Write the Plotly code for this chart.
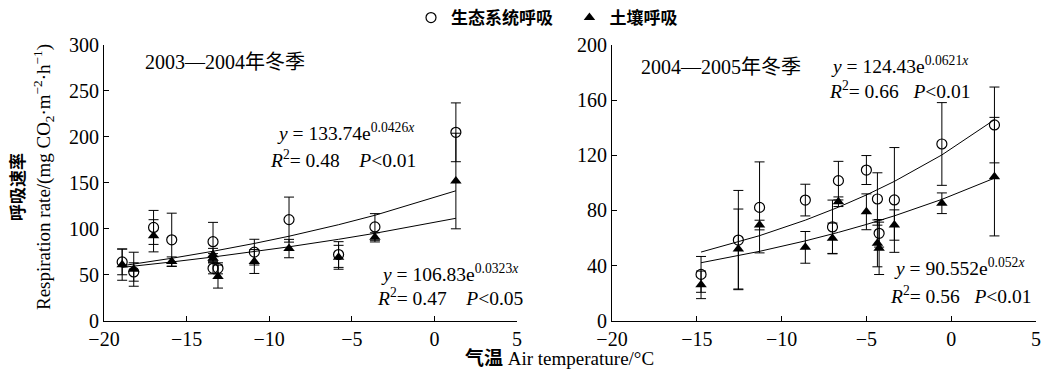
import plotly.graph_objects as go
import numpy as np

# ---------------- data ----------------
# Winter 2003-2004
t_0304 = [-18.9, -18.2, -17.0, -15.9, -13.4, -13.4, -13.1, -10.9, -8.8, -5.8, -3.6, 1.3]
eco_0304 = [64, 53, 101.5, 88, 86, 57, 57, 74.6, 110, 72, 102, 205]
eco_err_0304 = [14, 10, 18.5, 29, 21, 6, 6, 14, 24.5, 14, 14.5, 32]
soil_0304 = [61, 56, 92.4, 64.4, 71.7, 68, 48, 64.4, 78.5, 69, 90.7, 152]
soil_err_0304 = [17, 18.5, 17.5, 5, 7, 5, 12.5, 13, 10, 13, 5, 52]

# Winter 2004-2005
t_0405 = [-14.75, -12.55, -11.3, -8.6, -7.0, -6.65, -5.0, -4.35, -4.25, -3.35, -0.55, 2.55]
eco_0405 = [33.6, 58.5, 82.2, 87.5, 68, 101.6, 109.3, 88.3, 63.4, 87.6, 128.2, 142]
eco_err_0405 = [13, 36, 33, 11.5, 19.5, 14, 10.5, 19, 10, 38, 30, 27.5]
soil_0405 = [26, 52, 69.4, 53.2, 59.8, 86.3, 79, 56.1, 52.5, 69.4, 85.2, 104.5]
soil_err_0405 = [10, 29, 3.5, 11.5, 11, 3.5, 13, 17, 19, 11, 7.5, 43]

# fitted exponential models printed in the chart: y = a * exp(b x)
fit_eco_0304 = (133.74, 0.0426)
fit_soil_0304 = (106.83, 0.0323)
fit_eco_0405 = (124.43, 0.0621)
fit_soil_0405 = (90.552, 0.052)

legend_names = ["生态系统呼吸", "土壤呼吸"]
x_ticks = [-20, -15, -10, -5, 0, 5]
y_ticks_0304 = [0, 50, 100, 150, 200, 250, 300]
y_ticks_0405 = [0, 40, 80, 120, 160, 200]

# ---------------- figure ----------------
W, H = 1045, 375
SERIF = "Liberation Serif, Times New Roman, Noto Sans CJK SC, serif"
CJK = "Noto Sans CJK SC, sans-serif"
NB = "\u00a0"

fig = go.Figure()


def add_panel(xs, eco, eco_err, soil, soil_err, fe, fs, xa, ya, show_legend):
    err_style = dict(type="data", visible=True, color="black", thickness=1, width=5)
    fig.add_trace(go.Scatter(
        x=xs, y=eco, mode="markers", name="<b>" + legend_names[0] + "</b>" + NB * 3,
        marker=dict(symbol="circle-open", size=10, color="black", line=dict(width=1.2, color="black")),
        error_y=dict(array=eco_err, **err_style),
        xaxis=xa, yaxis=ya, showlegend=show_legend, legendgroup="eco"))
    fig.add_trace(go.Scatter(
        x=xs, y=soil, mode="markers", name="<b>" + legend_names[1] + "</b>",
        marker=dict(symbol="triangle-up", size=10, color="black"),
        error_y=dict(array=soil_err, **err_style),
        xaxis=xa, yaxis=ya, showlegend=show_legend, legendgroup="soil"))
    xf = np.array(sorted(set(xs)))
    for a, b in (fe, fs):
        fig.add_trace(go.Scatter(
            x=xf, y=a * np.exp(b * xf), mode="lines",
            line=dict(color="black", width=1), xaxis=xa, yaxis=ya,
            showlegend=False, hoverinfo="skip"))


add_panel(t_0304, eco_0304, eco_err_0304, soil_0304, soil_err_0304,
          fit_eco_0304, fit_soil_0304, "x", "y", True)
add_panel(t_0405, eco_0405, eco_err_0405, soil_0405, soil_err_0405,
          fit_eco_0405, fit_soil_0405, "x2", "y2", False)

ydom = [1 - 320.7 / H, 1 - 45 / H]
axis_common = dict(showline=True, linecolor="black", linewidth=1, showgrid=False,
                   zeroline=False, ticks="inside", ticklen=5, tickcolor="black",
                   automargin=False, ticklabeloverflow="allow",
                   tickfont=dict(family=SERIF, size=20, color="black"))

fig.update_layout(
    width=W, height=H,
    margin=dict(l=0, r=0, t=0, b=0, pad=0, autoexpand=False),
    paper_bgcolor="white", plot_bgcolor="white",
    font=dict(family=SERIF, size=19, color="black"),
    xaxis=dict(domain=[104 / W, 517 / W], range=[-20, 5], tickvals=x_ticks,
               anchor="y", **axis_common),
    yaxis=dict(domain=ydom, range=[0, 300], tickvals=y_ticks_0304,
               anchor="x", **axis_common),
    xaxis2=dict(domain=[612 / W, 1036 / W], range=[-20, 5], tickvals=x_ticks,
                anchor="y2", **axis_common),
    yaxis2=dict(domain=ydom, range=[0, 200], tickvals=y_ticks_0405,
                anchor="x2", **axis_common),
    legend=dict(orientation="h", x=547 / W, xanchor="center", y=1.0, yanchor="top",
                font=dict(family=CJK, size=17, color="black"), bgcolor="rgba(0,0,0,0)",
                itemwidth=30, tracegroupgap=0),
    showlegend=True,
)


def px_ann(text, x, y, xanchor="left", size=19.5, family=SERIF, angle=0):
    fig.add_annotation(text=text, x=x / W, y=1 - y / H, xref="paper", yref="paper",
                       xanchor=xanchor, yanchor="middle", showarrow=False,
                       textangle=angle, font=dict(family=family, size=size, color="black"))


px_ann("2003—2004年冬季", 143, 62, size=20)
px_ann("2004—2005年冬季", 639, 67, size=20)

px_ann("<i>y</i> = 133.74e<sup>0.0426<i>x</i></sup>", 275, 132)
px_ann("<i>R</i><sup>2</sup>= 0.48" + NB * 4 + "<i>P</i>&lt;0.01", 268, 159)
px_ann("<i>y</i> = 106.83e<sup>0.0323<i>x</i></sup>", 379, 273)
px_ann("<i>R</i><sup>2</sup>= 0.47" + NB * 4 + "<i>P</i>&lt;0.05", 375, 297)

px_ann("<i>y</i> = 124.43e<sup>0.0621<i>x</i></sup>", 829, 65)
px_ann("<i>R</i><sup>2</sup>= 0.66" + NB * 3 + "<i>P</i>&lt;0.01", 827, 90)
px_ann("<i>y</i> = 90.552e<sup>0.052<i>x</i></sup>", 892, 267)
px_ann("<i>R</i><sup>2</sup>= 0.56" + NB * 3 + "<i>P</i>&lt;0.01", 888, 295)

# axis titles
px_ann("<b>呼吸速率</b>", 17, 187, xanchor="center", size=17, family=CJK, angle=-90)
px_ann("Respiration rate/(mg CO<sub>2</sub>·m<sup>−2</sup>·h<sup>−1</sup>)", 43, 177,
       xanchor="center", size=19, angle=-90)
px_ann("<b>气温</b> Air temperature/°C", 463, 358, xanchor="left", size=19)

# remove the browser's default page margin so the figure starts at the window's corner
fig.write_html("out.html", config={"displayModeBar": False},
               post_script="document.body.style.margin='0px';")
